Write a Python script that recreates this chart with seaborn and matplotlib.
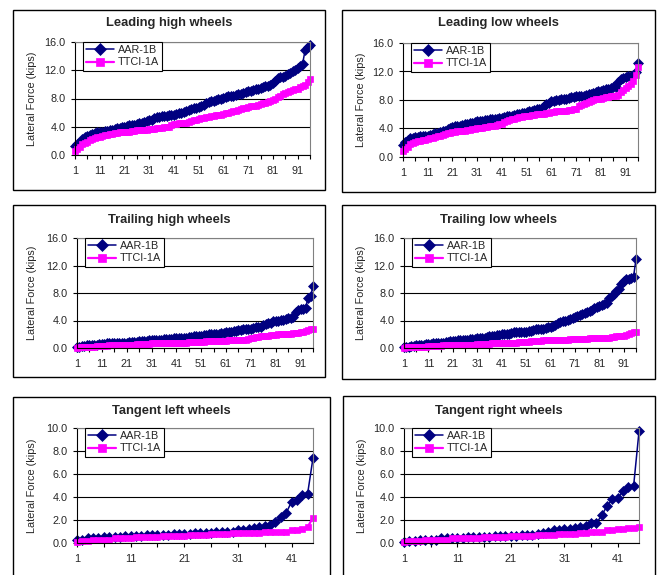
import pandas as pd
import matplotlib
matplotlib.use("Agg")
import matplotlib.pyplot as plt
import seaborn as sns
from matplotlib.patches import Rectangle
from matplotlib.ticker import FixedLocator, FormatStrFormatter

sns.set_style("white")
plt.rcParams["font.family"] = ["Liberation Sans", "DejaVu Sans"]

series_names = ["AAR-1B", "TTCI-1A"]
y_label = "Lateral Force (kips)"

# sorted lateral forces per wheel group (kips)
lead_high_aar = [
    1.3, 1.6, 1.9, 2.2, 2.5, 2.7, 2.9, 3.0, 3.1, 3.2,
    3.2, 3.3, 3.4, 3.4, 3.5, 3.6, 3.7, 3.8, 3.8, 3.9,
    4.0, 4.1, 4.2, 4.2, 4.3, 4.4, 4.5, 4.6, 4.7, 4.8,
    4.9, 5.0, 5.3, 5.4, 5.4, 5.5, 5.5, 5.5, 5.6, 5.6,
    5.7, 5.8, 5.9, 6.0, 6.1, 6.3, 6.4, 6.5, 6.6, 6.7,
    6.8, 7.0, 7.1, 7.3, 7.5, 7.6, 7.7, 7.8, 7.9, 8.0,
    8.1, 8.2, 8.3, 8.3, 8.4, 8.5, 8.6, 8.7, 8.8, 8.9,
    9.0, 9.1, 9.2, 9.3, 9.4, 9.5, 9.6, 9.7, 9.8, 9.9,
    10.2, 10.5, 10.9, 11.0, 11.1, 11.2, 11.4, 11.6, 11.9, 12.1,
    12.3, 12.6, 12.9, 14.8, 15.3, 15.6,
]
lead_high_ttci = [
    0.6, 0.9, 1.2, 1.5, 1.7, 1.9, 2.1, 2.2, 2.4, 2.5,
    2.6, 2.7, 2.8, 2.9, 3.0, 3.0, 3.1, 3.1, 3.2, 3.2,
    3.2, 3.3, 3.3, 3.4, 3.4, 3.5, 3.5, 3.6, 3.6, 3.6,
    3.7, 3.7, 3.7, 3.8, 3.8, 3.8, 3.9, 3.9, 4.0, 4.3,
    4.4, 4.4, 4.5, 4.5, 4.6, 4.6, 4.7, 4.8, 4.9, 5.0,
    5.1, 5.2, 5.3, 5.4, 5.4, 5.5, 5.5, 5.6, 5.6, 5.7,
    5.8, 5.9, 6.0, 6.1, 6.2, 6.3, 6.4, 6.5, 6.6, 6.7,
    6.8, 6.9, 7.0, 7.0, 7.1, 7.2, 7.3, 7.4, 7.5, 7.6,
    7.8, 8.0, 8.2, 8.4, 8.6, 8.8, 8.9, 9.1, 9.2, 9.3,
    9.4, 9.6, 9.7, 9.9, 10.4, 10.7,
]
lead_low_aar = [
    1.7, 2.1, 2.4, 2.6, 2.7, 2.8, 2.8, 2.9, 2.9, 3.0,
    3.0, 3.1, 3.2, 3.3, 3.4, 3.5, 3.6, 3.7, 3.9, 4.0,
    4.2, 4.3, 4.3, 4.4, 4.5, 4.6, 4.7, 4.8, 4.8, 4.9,
    5.0, 5.1, 5.1, 5.2, 5.2, 5.3, 5.3, 5.4, 5.4, 5.5,
    5.5, 5.6, 5.7, 5.7, 5.8, 5.9, 6.0, 6.1, 6.2, 6.2,
    6.3, 6.4, 6.5, 6.6, 6.7, 6.8, 6.9, 7.1, 7.4, 7.6,
    7.8, 7.9, 8.0, 8.0, 8.1, 8.1, 8.2, 8.3, 8.4, 8.4,
    8.5, 8.5, 8.6, 8.6, 8.7, 8.8, 8.9, 9.0, 9.1, 9.2,
    9.3, 9.4, 9.5, 9.6, 9.7, 9.8, 9.8, 10.5, 10.9, 11.1,
    11.2, 11.3, 11.4, 11.5, 11.9, 13.2,
]
lead_low_ttci = [
    0.9, 1.1, 1.4, 1.8, 2.0, 2.1, 2.2, 2.3, 2.4, 2.4,
    2.5, 2.6, 2.7, 2.8, 2.9, 3.0, 3.1, 3.2, 3.3, 3.4,
    3.5, 3.5, 3.6, 3.6, 3.7, 3.7, 3.8, 3.8, 3.9, 3.9,
    4.0, 4.1, 4.1, 4.2, 4.2, 4.3, 4.3, 4.4, 4.5, 4.6,
    4.7, 4.9, 5.1, 5.2, 5.3, 5.4, 5.5, 5.6, 5.6, 5.7,
    5.8, 5.8, 5.9, 5.9, 6.0, 6.0, 6.1, 6.1, 6.2, 6.2,
    6.3, 6.3, 6.4, 6.4, 6.5, 6.5, 6.5, 6.6, 6.6, 6.7,
    6.8, 7.1, 7.3, 7.5, 7.6, 7.7, 7.9, 8.0, 8.1, 8.2,
    8.2, 8.3, 8.4, 8.4, 8.5, 8.5, 8.6, 8.7, 9.1, 9.4,
    9.7, 10.0, 10.3, 10.6, 11.5, 12.7,
]
trail_high_aar = [
    0.1, 0.2, 0.3, 0.3, 0.4, 0.4, 0.5, 0.5, 0.5, 0.6,
    0.6, 0.6, 0.7, 0.7, 0.7, 0.7, 0.8, 0.8, 0.8, 0.8,
    0.8, 0.9, 0.9, 0.9, 0.9, 1.0, 1.0, 1.0, 1.0, 1.1,
    1.1, 1.1, 1.2, 1.2, 1.2, 1.3, 1.3, 1.3, 1.3, 1.4,
    1.4, 1.4, 1.5, 1.5, 1.5, 1.6, 1.6, 1.7, 1.7, 1.8,
    1.8, 1.9, 1.9, 2.0, 2.0, 2.0, 2.1, 2.1, 2.2, 2.2,
    2.3, 2.4, 2.4, 2.5, 2.5, 2.6, 2.6, 2.7, 2.7, 2.8,
    2.8, 2.9, 3.0, 3.0, 3.1, 3.3, 3.5, 3.6, 3.7, 3.9,
    4.0, 4.0, 4.1, 4.1, 4.2, 4.3, 4.3, 4.5, 5.2, 5.5,
    5.7, 5.7, 5.8, 7.3, 7.5, 9.0,
]
trail_high_ttci = [
    0.0, 0.1, 0.1, 0.1, 0.2, 0.2, 0.2, 0.2, 0.3, 0.3,
    0.3, 0.3, 0.3, 0.4, 0.4, 0.4, 0.4, 0.4, 0.5, 0.5,
    0.5, 0.5, 0.5, 0.5, 0.6, 0.6, 0.6, 0.6, 0.6, 0.6,
    0.7, 0.7, 0.7, 0.7, 0.7, 0.7, 0.7, 0.8, 0.8, 0.8,
    0.8, 0.8, 0.8, 0.8, 0.8, 0.9, 0.9, 0.9, 0.9, 0.9,
    0.9, 0.9, 1.0, 1.0, 1.0, 1.0, 1.0, 1.0, 1.0, 1.0,
    1.0, 1.1, 1.1, 1.1, 1.1, 1.1, 1.1, 1.2, 1.2, 1.3,
    1.4, 1.5, 1.6, 1.6, 1.7, 1.7, 1.8, 1.8, 1.9, 1.9,
    1.9, 2.0, 2.0, 2.0, 2.1, 2.1, 2.1, 2.2, 2.2, 2.2,
    2.3, 2.4, 2.5, 2.6, 2.7, 2.8,
]
trail_low_aar = [
    0.1, 0.2, 0.2, 0.3, 0.3, 0.4, 0.4, 0.5, 0.5, 0.6,
    0.6, 0.6, 0.7, 0.7, 0.8, 0.8, 0.8, 0.9, 0.9, 1.0,
    1.0, 1.0, 1.1, 1.1, 1.1, 1.2, 1.2, 1.3, 1.3, 1.3,
    1.4, 1.4, 1.5, 1.5, 1.6, 1.7, 1.8, 1.8, 1.9, 1.9,
    2.0, 2.0, 2.0, 2.1, 2.2, 2.3, 2.3, 2.3, 2.4, 2.4,
    2.4, 2.5, 2.5, 2.6, 2.7, 2.7, 2.8, 2.8, 2.9, 3.0,
    3.1, 3.2, 3.4, 3.6, 3.8, 3.9, 4.0, 4.1, 4.2, 4.3,
    4.5, 4.6, 4.8, 5.0, 5.1, 5.3, 5.4, 5.6, 5.8, 6.0,
    6.1, 6.3, 6.4, 6.6, 7.3, 7.6, 7.9, 8.3, 8.6, 9.3,
    9.8, 10.0, 10.1, 10.2, 10.4, 12.9,
]
trail_low_ttci = [
    0.0, 0.1, 0.1, 0.1, 0.1, 0.2, 0.2, 0.2, 0.2, 0.2,
    0.3, 0.3, 0.3, 0.3, 0.3, 0.3, 0.4, 0.4, 0.4, 0.4,
    0.4, 0.4, 0.4, 0.5, 0.5, 0.5, 0.5, 0.5, 0.5, 0.5,
    0.6, 0.6, 0.6, 0.6, 0.6, 0.6, 0.7, 0.7, 0.7, 0.7,
    0.7, 0.7, 0.8, 0.8, 0.8, 0.8, 0.8, 0.9, 0.9, 0.9,
    0.9, 0.9, 1.0, 1.0, 1.0, 1.0, 1.0, 1.1, 1.1, 1.1,
    1.1, 1.1, 1.2, 1.2, 1.2, 1.2, 1.2, 1.2, 1.3, 1.3,
    1.3, 1.3, 1.3, 1.3, 1.3, 1.3, 1.4, 1.4, 1.4, 1.4,
    1.4, 1.4, 1.5, 1.5, 1.5, 1.6, 1.6, 1.7, 1.7, 1.8,
    1.8, 1.9, 2.0, 2.2, 2.3, 2.4,
]
tan_left_aar = [
    0.3, 0.3, 0.4, 0.4, 0.4, 0.5, 0.5, 0.5, 0.5, 0.6,
    0.6, 0.6, 0.6, 0.7, 0.7, 0.7, 0.7, 0.7, 0.8, 0.8,
    0.8, 0.8, 0.9, 0.9, 0.9, 0.9, 1.0, 1.0, 1.0, 1.0,
    1.1, 1.1, 1.2, 1.3, 1.4, 1.5, 1.6, 1.8, 2.3, 2.6,
    3.6, 3.7, 4.2, 4.3, 7.4,
]
tan_left_ttci = [
    0.1, 0.2, 0.2, 0.3, 0.3, 0.3, 0.3, 0.4, 0.4, 0.4,
    0.4, 0.5, 0.5, 0.5, 0.5, 0.5, 0.6, 0.6, 0.6, 0.6,
    0.6, 0.7, 0.7, 0.7, 0.7, 0.8, 0.8, 0.8, 0.8, 0.9,
    0.9, 0.9, 0.9, 0.9, 0.9, 1.0, 1.0, 1.0, 1.0, 1.0,
    1.1, 1.1, 1.2, 1.4, 2.2,
]
tan_right_aar = [
    0.1, 0.2, 0.2, 0.3, 0.3, 0.3, 0.3, 0.4, 0.4, 0.4,
    0.4, 0.4, 0.5, 0.5, 0.5, 0.5, 0.5, 0.6, 0.6, 0.6,
    0.6, 0.6, 0.7, 0.7, 0.7, 0.8, 0.9, 1.0, 1.1, 1.1,
    1.2, 1.2, 1.3, 1.4, 1.5, 1.7, 1.7, 2.4, 3.2, 3.8,
    3.9, 4.5, 4.9, 5.0, 9.7,
]
tan_right_ttci = [
    0.1, 0.2, 0.2, 0.2, 0.3, 0.3, 0.3, 0.3, 0.3, 0.4,
    0.4, 0.4, 0.4, 0.4, 0.4, 0.5, 0.5, 0.5, 0.5, 0.5,
    0.6, 0.6, 0.6, 0.6, 0.6, 0.7, 0.7, 0.7, 0.7, 0.8,
    0.8, 0.8, 0.8, 0.9, 0.9, 1.0, 1.0, 1.0, 1.1, 1.1,
    1.2, 1.2, 1.3, 1.3, 1.4,
]

curve_ticks = [1, 11, 21, 31, 41, 51, 61, 71, 81, 91]
tangent_ticks = [1, 11, 21, 31, 41]
curve_yticks = [0, 4, 8, 12, 16]
tangent_yticks = [0, 2, 4, 6, 8, 10]

panels = [
    ("Leading high wheels", lead_high_aar, lead_high_ttci, curve_ticks, curve_yticks),
    ("Leading low wheels", lead_low_aar, lead_low_ttci, curve_ticks, curve_yticks),
    ("Trailing high wheels", trail_high_aar, trail_high_ttci, curve_ticks, curve_yticks),
    ("Trailing low wheels", trail_low_aar, trail_low_ttci, curve_ticks, curve_yticks),
    ("Tangent left wheels", tan_left_aar, tan_left_ttci, tangent_ticks, tangent_yticks),
    ("Tangent right wheels", tan_right_aar, tan_right_ttci, tangent_ticks, tangent_yticks),
]

# layout in pixels: plot area (left, top, right, bottom) and outer box
W, H = 658, 575
plot_px = [(75, 42, 310, 155), (403, 43, 638, 157),
           (77, 238, 313, 348), (404, 238, 636, 348),
           (77, 428, 313, 543), (404, 428, 639, 543)]
box_px = [(13, 10, 325, 190), (342, 10, 655, 192),
          (13, 205, 325, 377), (342, 205, 655, 379),
          (13, 397, 330, 590), (343, 396, 655, 590)]
title_y = [23, 23, 220, 220, 411, 411]

colors = {"AAR-1B": "#000080", "TTCI-1A": "#FF00FF"}
markers = {"AAR-1B": "D", "TTCI-1A": "s"}
msize = {"AAR-1B": 4.8, "TTCI-1A": 5.0}
lwidth = {"AAR-1B": 1.1, "TTCI-1A": 1.6}

fig = plt.figure(figsize=(W / 100, H / 100), dpi=100)

for k, (title, aar, ttci, xt, yt) in enumerate(panels):
    bl, bt, br, bb = box_px[k]
    fig.patches.append(Rectangle((bl / W, 1 - bb / H), (br - bl) / W, (bb - bt) / H,
                                 transform=fig.transFigure, fill=False,
                                 edgecolor="black", linewidth=1.0))
    fig.text((bl + br) / 2 / W, 1 - title_y[k] / H, title, ha="center", va="center",
             fontsize=9.3, fontweight="bold")

    l, t, r, b = plot_px[k]
    ax = fig.add_axes([l / W, 1 - b / H, (r - l) / W, (b - t) / H])

    n = len(aar)
    df = pd.DataFrame({"Sample": list(range(1, n + 1)), "AAR-1B": aar, "TTCI-1A": ttci})
    df = df.melt(id_vars="Sample", var_name="Series", value_name="Force")

    for name in series_names:
        sub = df[df["Series"] == name]
        sns.lineplot(data=sub, x="Sample", y="Force", ax=ax, color=colors[name],
                     marker=markers[name], markersize=msize[name],
                     markeredgecolor=colors[name], markeredgewidth=0.5,
                     linewidth=lwidth[name], errorbar=None, label=name, clip_on=False)

    ax.set_xlim(1, n)
    ax.set_ylim(yt[0], yt[-1])
    ax.set_yticks(yt)
    ax.yaxis.set_major_formatter(FormatStrFormatter("%.1f"))
    ax.set_xticks(xt)
    ax.set_xticklabels([str(v) for v in xt])
    ax.xaxis.set_minor_locator(FixedLocator([v + 5 for v in xt if v + 5 <= n]))

    ax.yaxis.grid(True, color="black", linewidth=0.8)
    ax.set_axisbelow(True)
    for side in ["top", "right"]:
        ax.spines[side].set_color("#808080")
        ax.spines[side].set_linewidth(0.8)
    for side in ["left", "bottom"]:
        ax.spines[side].set_color("black")
        ax.spines[side].set_linewidth(0.8)

    ax.tick_params(axis="both", which="both", direction="out", length=3, width=0.8,
                   color="black", labelsize=7.8, bottom=True, left=True)
    ax.tick_params(axis="x", pad=5)
    ax.tick_params(axis="y", pad=4)

    ax.set_xlabel("")
    ax.set_ylabel(y_label, fontsize=7.8)
    ax.yaxis.set_label_coords((bl + 24 - l) / (r - l), 0.5)

    leg = ax.legend(loc="upper left", bbox_to_anchor=(8 / (r - l), 1.0), frameon=True,
                    fancybox=False, edgecolor="black", framealpha=1, fontsize=7.8,
                    handlelength=2.6, handletextpad=0.3, borderpad=0.3,
                    labelspacing=0.2, borderaxespad=0, numpoints=1, markerscale=1.2)
    leg.get_frame().set_linewidth(0.8)

fig.savefig("out.png", dpi=100)
